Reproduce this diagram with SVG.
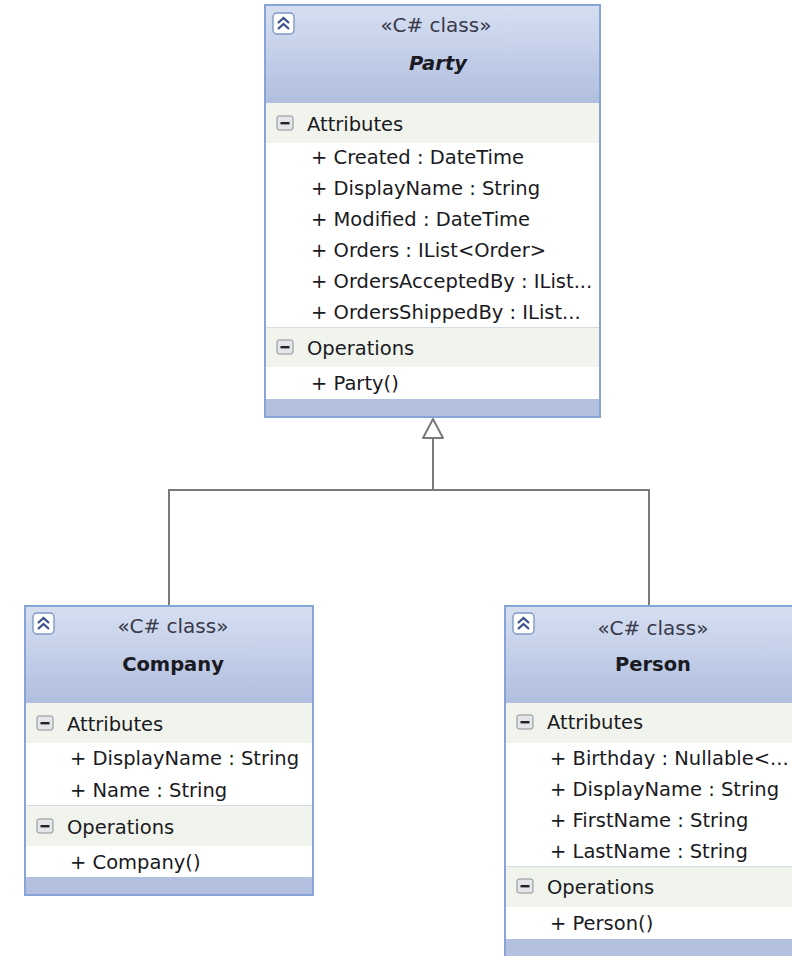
<svg xmlns="http://www.w3.org/2000/svg" width="792" height="956" viewBox="0 0 792 956">
  <style>
    .frame { fill: #ffffff; stroke: #86a4d6; stroke-width: 2; }
    .head { fill: url(#headGrad); }
    .foot { fill: #b3c0e0; }
    .sect { fill: #f1f4ec; }
    .rule { stroke: #d6dce4; stroke-width: 1; }
    .stereo { font-family: "DejaVu Sans", "Noto Sans", sans-serif; font-size: 20px; fill: #3a3a4a; text-anchor: middle; }
    .title { font-family: "DejaVu Sans", "Noto Sans", sans-serif; font-size: 19.5px; font-weight: bold; fill: #1a1a22; text-anchor: middle; }
    .txt { font-family: "DejaVu Sans", "Noto Sans", sans-serif; font-size: 19.5px; fill: #1a1a22; }
    .edge { fill: none; stroke: #7a7a7a; stroke-width: 2; }
  </style>
  <defs>
    <linearGradient id="headGrad" x1="0" y1="0" x2="0" y2="1">
      <stop offset="0" stop-color="#d6dff1"/>
      <stop offset="1" stop-color="#b0bedf"/>
    </linearGradient>
    <!-- collapse chevron badge -->
    <g id="chev">
      <rect x="0" y="0" width="21" height="21" rx="4" fill="#ffffff" stroke="#7f98c4" stroke-width="1.4"/>
      <path d="M5 10 L10.5 5 L16 10 M5 16 L10.5 11 L16 16" fill="none" stroke="#3a4f8a" stroke-width="2.2"/>
    </g>
    <!-- section minus toggle -->
    <g id="minus">
      <rect x="0" y="0" width="16" height="14" rx="2" fill="#e4e6ea" stroke="#8c8f96" stroke-width="1"/>
      <rect x="3.5" y="6" width="9" height="2.4" fill="#222"/>
    </g>
  </defs>

  <!-- inheritance connectors -->
  <g id="connectors">
    <path class="edge" d="M169 605 V490 H649 V605"/>
    <path class="edge" d="M433 490 V438"/>
    <path d="M433 419 L443 438 L423 438 Z" fill="#ffffff" stroke="#7a7a7a" stroke-width="2" stroke-linejoin="round"/>
  </g>

  <!-- Party -->
  <g id="party">
    <rect class="frame" x="265" y="5" width="335" height="412"/>
    <rect class="head" x="266" y="6" width="333" height="97"/>
    <rect class="sect" x="266" y="103" width="333" height="40"/>
    <line class="rule" x1="266" y1="327.5" x2="599" y2="327.5"/>
    <rect class="sect" x="266" y="328" width="333" height="39"/>
    <rect class="foot" x="266" y="399" width="333" height="17"/>
    <use href="#chev" x="273" y="13"/>
    <text class="stereo" x="436" y="32">«C# class»</text>
    <text class="title" x="438" y="70" font-style="italic">Party</text>
    <use href="#minus" x="277" y="116"/>
    <text class="txt" x="307" y="131">Attributes</text>
    <text class="txt" x="311" y="164">+ Created : DateTime</text>
    <text class="txt" x="311" y="195">+ DisplayName : String</text>
    <text class="txt" x="311" y="226">+ Modified : DateTime</text>
    <text class="txt" x="311" y="257">+ Orders : IList&lt;Order&gt;</text>
    <text class="txt" x="311" y="288">+ OrdersAcceptedBy : IList...</text>
    <text class="txt" x="311" y="319">+ OrdersShippedBy : IList...</text>
    <use href="#minus" x="277" y="340"/>
    <text class="txt" x="307" y="355">Operations</text>
    <text class="txt" x="311" y="390">+ Party()</text>
  </g>

  <!-- Company -->
  <g id="company">
    <rect class="frame" x="25" y="606" width="288" height="289"/>
    <rect class="head" x="26" y="607" width="286" height="96"/>
    <rect class="sect" x="26" y="703" width="286" height="40"/>
    <line class="rule" x1="26" y1="805.5" x2="312" y2="805.5"/>
    <rect class="sect" x="26" y="806" width="286" height="40"/>
    <rect class="foot" x="26" y="877" width="286" height="17"/>
    <use href="#chev" x="33" y="613"/>
    <text class="stereo" x="173" y="633">«C# class»</text>
    <text class="title" x="173" y="671">Company</text>
    <use href="#minus" x="37" y="716"/>
    <text class="txt" x="67" y="731">Attributes</text>
    <text class="txt" x="70" y="765">+ DisplayName : String</text>
    <text class="txt" x="70" y="797">+ Name : String</text>
    <use href="#minus" x="37" y="819"/>
    <text class="txt" x="67" y="834">Operations</text>
    <text class="txt" x="70" y="869">+ Company()</text>
  </g>

  <!-- Person -->
  <g id="person">
    <rect class="frame" x="505" y="606" width="292" height="360"/>
    <rect class="head" x="506" y="607" width="290" height="96"/>
    <rect class="sect" x="506" y="703" width="290" height="40"/>
    <line class="rule" x1="506" y1="866.5" x2="796" y2="866.5"/>
    <rect class="sect" x="506" y="867" width="290" height="40"/>
    <rect class="foot" x="506" y="939" width="290" height="20"/>
    <use href="#chev" x="513" y="613"/>
    <text class="stereo" x="653" y="635">«C# class»</text>
    <text class="title" x="653" y="671">Person</text>
    <use href="#minus" x="517" y="715"/>
    <text class="txt" x="547" y="729">Attributes</text>
    <text class="txt" x="550" y="765">+ Birthday : Nullable&lt;...</text>
    <text class="txt" x="550" y="796">+ DisplayName : String</text>
    <text class="txt" x="550" y="827">+ FirstName : String</text>
    <text class="txt" x="550" y="858">+ LastName : String</text>
    <use href="#minus" x="517" y="879"/>
    <text class="txt" x="547" y="894">Operations</text>
    <text class="txt" x="550" y="930">+ Person()</text>
  </g>
</svg>
